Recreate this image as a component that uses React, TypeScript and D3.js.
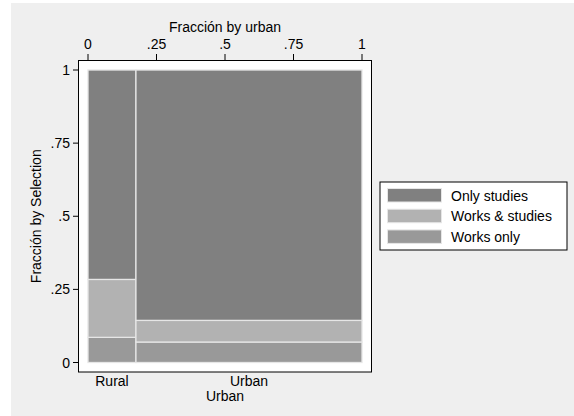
import React from "react";
import * as d3 from "d3";

// Spineplot of Selection by urban
const categories = ["Rural", "Urban"];
const categoryShare = [0.175, 0.825];
const seriesNames = ["Works only", "Works & studies", "Only studies"];
const ruralValues = [0.086, 0.198, 0.716];
const urbanValues = [0.07, 0.074, 0.856];
const seriesColors = ["#999999", "#b2b2b2", "#808080"];
const legendOrder = ["Only studies", "Works & studies", "Works only"];
const xTicks = [0, 0.25, 0.5, 0.75, 1];
const xTickLabels = ["0", ".25", ".5", ".75", "1"];
const yTicks = [0, 0.25, 0.5, 0.75, 1];
const yTickLabels = ["0", ".25", ".5", ".75", "1"];

const W = 574;
const H = 416;
const FONT = "'Liberation Sans', Arial, Helvetica, sans-serif";

export default function App() {
  const x = d3.scaleLinear().domain([0, 1]).range([88, 362]);
  const y = d3.scaleLinear().domain([0, 1]).range([362.5, 70]);
  const color = d3.scaleOrdinal<string, string>().domain(seriesNames).range(seriesColors);

  const valuesByCat = [ruralValues, urbanValues];
  const xStarts = d3.cumsum([0, ...categoryShare]);

  const cells: { x0: number; x1: number; y0: number; y1: number; name: string; key: string }[] = [];
  categories.forEach((cat, ci) => {
    const stacked = d3.cumsum([0, ...valuesByCat[ci]]);
    seriesNames.forEach((s, si) => {
      cells.push({
        x0: xStarts[ci],
        x1: xStarts[ci + 1],
        y0: stacked[si],
        y1: stacked[si + 1],
        name: s,
        key: `${cat}-${s}`,
      });
    });
  });

  const box = { left: 78.5, top: 60.5, right: 371.5, bottom: 372 };

  return (
    <svg
      width={W}
      height={H}
      style={{ position: "absolute", left: 0, top: 0, display: "block" }}
      fontFamily={FONT}
    >
      <rect x={0} y={0} width={W} height={H} fill="#ffffff" />
      <rect x={11} y={3} width={W - 11} height={H - 3} fill="#efefef" />

      {/* plot region */}
      <rect
        x={box.left}
        y={box.top}
        width={box.right - box.left}
        height={box.bottom - box.top}
        fill="#ffffff"
        stroke="#000000"
        strokeWidth={1}
      />

      {cells.map((c) => (
        <rect
          key={c.key}
          x={x(c.x0)}
          y={y(c.y1)}
          width={x(c.x1) - x(c.x0)}
          height={y(c.y0) - y(c.y1)}
          fill={color(c.name)}
          stroke="#e6e6e6"
          strokeWidth={1.3}
        />
      ))}

      {/* top fraction axis */}
      {xTicks.map((t, i) => (
        <g key={`xt${i}`}>
          <line x1={x(t)} x2={x(t)} y1={54} y2={box.top} stroke="#000" strokeWidth={1} />
          <text x={x(t)} y={48.5} textAnchor="middle" fontSize={14} fill="#000">
            {xTickLabels[i]}
          </text>
        </g>
      ))}
      <text x={(x(0) + x(1)) / 2} y={32} textAnchor="middle" fontSize={14} fill="#000">
        Fracción by urban
      </text>

      {/* left fraction axis */}
      {yTicks.map((t, i) => (
        <g key={`yt${i}`}>
          <line x1={73} x2={box.left} y1={y(t)} y2={y(t)} stroke="#000" strokeWidth={1} />
          <text x={70} y={y(t) + 5} textAnchor="end" fontSize={14} fill="#000">
            {yTickLabels[i]}
          </text>
        </g>
      ))}
      <text
        transform={`translate(41, ${(y(0) + y(1)) / 2}) rotate(-90)`}
        textAnchor="middle"
        fontSize={14}
        fill="#000"
      >
        Fracción by Selection
      </text>

      {/* bottom category labels */}
      {categories.map((cat, ci) => (
        <text
          key={`cl${ci}`}
          x={(x(xStarts[ci]) + x(xStarts[ci + 1])) / 2}
          y={386}
          textAnchor="middle"
          fontSize={14}
          fill="#000"
        >
          {cat}
        </text>
      ))}
      <text x={(x(0) + x(1)) / 2} y={401} textAnchor="middle" fontSize={14} fill="#000">
        Urban
      </text>

      {/* legend */}
      <rect x={380} y={182} width={187} height={68} fill="#ffffff" stroke="#000" strokeWidth={1} />
      {legendOrder.map((name, i) => (
        <g key={`lg${i}`}>
          <rect
            x={387.5}
            y={188.5 + i * 20.7}
            width={54}
            height={13.5}
            fill={color(name)}
            stroke="#e6e6e6"
            strokeWidth={1}
          />
          <text x={451} y={200.5 + i * 20.7} fontSize={14} fill="#000">
            {name}
          </text>
        </g>
      ))}
    </svg>
  );
}
